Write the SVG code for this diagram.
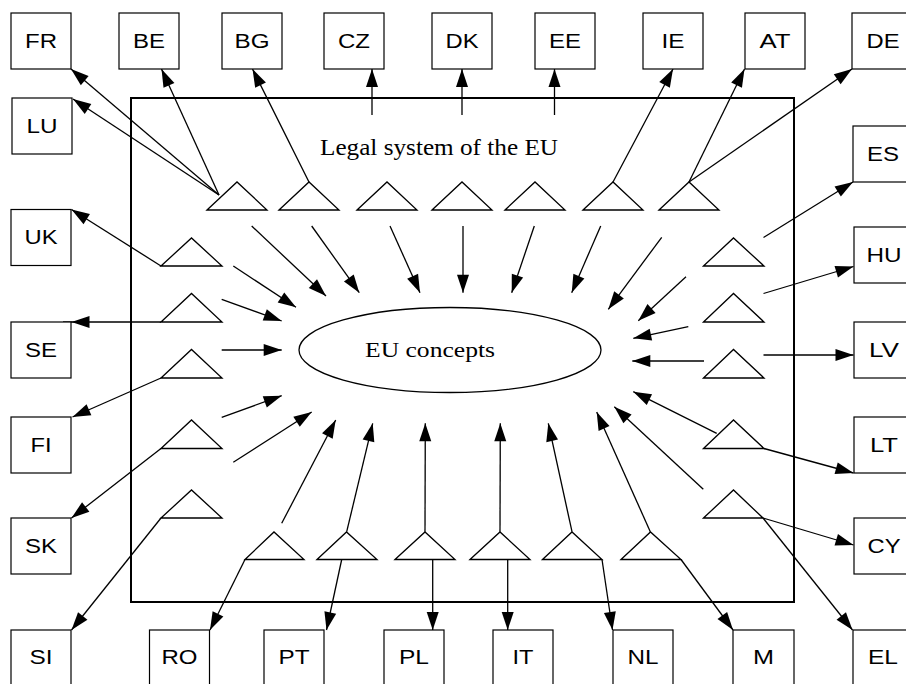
<svg xmlns="http://www.w3.org/2000/svg" width="906" height="684" viewBox="0 0 906 684">
<style>
.box{fill:#fff;stroke:#000;stroke-width:1.2}
.lbl{font-family:"Liberation Sans",Arial,sans-serif;font-size:20px;fill:#000;text-anchor:middle}
.tri{fill:none;stroke:#000;stroke-width:1.3}
.frame{fill:none;stroke:#000;stroke-width:2}
.ell{fill:none;stroke:#000;stroke-width:1.3}
.ser{font-family:"Liberation Serif","Times New Roman",serif;fill:#000}
.c line{stroke:#000;stroke-width:1.3;marker-end:url(#ah)}
.c line.n{marker-end:none}
</style>
<defs>
<marker id="ah" markerUnits="userSpaceOnUse" markerWidth="18" markerHeight="12" refX="18" refY="6" orient="auto" overflow="visible">
<path d="M0,0 L18,6 L0,12 z" fill="#000"/>
</marker>
</defs>
<rect width="906" height="684" fill="#fff"/>

<g id="legal-system">
<rect class="frame" x="131" y="98" width="663" height="504"/>
<text class="ser" x="320" y="155" font-size="23" textLength="238" lengthAdjust="spacingAndGlyphs">Legal system of the EU</text>
</g>

<g id="eu-concepts">
<ellipse class="ell" cx="450" cy="350" rx="151" ry="42.5"/>
<text class="ser" x="365" y="357" font-size="21" textLength="130" lengthAdjust="spacingAndGlyphs">EU concepts</text>
</g>

<g id="triangles">
<g id="t-top1"><path class="tri" d="M207,210 L237,182 L267,210 Z"/></g>
<g id="t-top2"><path class="tri" d="M279,210 L309,182 L339,210 Z"/></g>
<g id="t-top3"><path class="tri" d="M357,210 L387,182 L417,210 Z"/></g>
<g id="t-top4"><path class="tri" d="M432,210 L462,182 L492,210 Z"/></g>
<g id="t-top5"><path class="tri" d="M505,210 L535,182 L565,210 Z"/></g>
<g id="t-top6"><path class="tri" d="M583,210 L613,182 L643,210 Z"/></g>
<g id="t-top7"><path class="tri" d="M659,210 L689,182 L719,210 Z"/></g>
<g id="t-left1"><path class="tri" d="M161,266 L191.5,238 L222,266 Z"/></g>
<g id="t-left2"><path class="tri" d="M161,322 L191.5,293.5 L222,322 Z"/></g>
<g id="t-left3"><path class="tri" d="M161,378 L191.5,349.5 L222,378 Z"/></g>
<g id="t-left4"><path class="tri" d="M161,448.5 L191.5,420 L222,448.5 Z"/></g>
<g id="t-left5"><path class="tri" d="M161,518 L191.5,490 L222,518 Z"/></g>
<g id="t-right1"><path class="tri" d="M703.5,266 L733.5,238 L764,266 Z"/></g>
<g id="t-right2"><path class="tri" d="M703.5,322 L733.5,293.5 L764,322 Z"/></g>
<g id="t-right3"><path class="tri" d="M703.5,378 L733.5,349.5 L764,378 Z"/></g>
<g id="t-right4"><path class="tri" d="M703.5,448.5 L733.5,420 L764,448.5 Z"/></g>
<g id="t-right5"><path class="tri" d="M703.5,518 L733.5,490 L763,518 Z"/></g>
<g id="t-bot1"><path class="tri" d="M245,559.5 L274,532 L304,559.5 Z"/></g>
<g id="t-bot2"><path class="tri" d="M317,559.5 L346.5,532 L377,559.5 Z"/></g>
<g id="t-bot3"><path class="tri" d="M395,559.5 L425,532 L455,559.5 Z"/></g>
<g id="t-bot4"><path class="tri" d="M470,559.5 L500,532 L530,559.5 Z"/></g>
<g id="t-bot5"><path class="tri" d="M542.5,559.5 L572,532 L602,559.5 Z"/></g>
<g id="t-bot6"><path class="tri" d="M621,559.5 L650.5,532 L681,559.5 Z"/></g>
</g>

<g id="connectors" class="c">
<line x1="219" y1="195" x2="71" y2="69"/>
<line x1="219" y1="195" x2="73" y2="99"/>
<line x1="219" y1="195" x2="161.5" y2="69"/>
<line x1="309" y1="182" x2="252.5" y2="69"/>
<line x1="372" y1="115" x2="372" y2="69"/>
<line x1="462" y1="115" x2="462" y2="69"/>
<line x1="554.5" y1="115" x2="554.5" y2="69"/>
<line x1="613" y1="182" x2="673" y2="69"/>
<line x1="689" y1="182" x2="744.5" y2="69"/>
<line x1="689" y1="182" x2="852" y2="69"/>
<line x1="763.5" y1="237.5" x2="853" y2="182"/>
<line x1="763.5" y1="293.5" x2="853.5" y2="266.5"/>
<line x1="763.5" y1="355" x2="853.5" y2="355"/>
<line x1="764" y1="448.5" x2="853.5" y2="473"/>
<line x1="763" y1="518" x2="853.5" y2="545"/>
<line x1="763" y1="518" x2="852.5" y2="630"/>
<line x1="681" y1="559.5" x2="733" y2="630"/>
<line x1="602" y1="559.5" x2="612.5" y2="630"/>
<line x1="507.7" y1="559.5" x2="507.7" y2="630"/>
<line x1="432.7" y1="559.5" x2="432.7" y2="630"/>
<line x1="341.7" y1="559.5" x2="326.5" y2="630"/>
<line x1="245" y1="559.5" x2="210" y2="630"/>
<line x1="161" y1="518" x2="71.5" y2="630"/>
<line x1="161" y1="448.5" x2="71.5" y2="518"/>
<line x1="161" y1="378" x2="72.5" y2="417"/>
<line x1="161" y1="322" x2="71.5" y2="322"/>
<line class="n" x1="72" y1="322" x2="63" y2="322"/>
<line x1="161" y1="266" x2="71.5" y2="209.5"/>
<line x1="251.7" y1="226" x2="326" y2="296"/>
<line x1="311.7" y1="226" x2="359.3" y2="292.7"/>
<line x1="390" y1="226" x2="420" y2="292.7"/>
<line x1="463" y1="226" x2="463" y2="292.7"/>
<line x1="534.3" y1="226" x2="511.7" y2="292.7"/>
<line x1="600.7" y1="226" x2="571.7" y2="292.7"/>
<line x1="661.7" y1="237.3" x2="608.3" y2="309.3"/>
<line x1="686" y1="276.7" x2="638.3" y2="320.7"/>
<line x1="688.3" y1="326.7" x2="633.3" y2="338.3"/>
<line x1="704" y1="361" x2="632.3" y2="361"/>
<line x1="716.7" y1="433.3" x2="633.3" y2="391.7"/>
<line x1="703.3" y1="489.3" x2="614.3" y2="406.7"/>
<line x1="650.3" y1="531.7" x2="596.7" y2="412"/>
<line x1="572" y1="531.7" x2="548.3" y2="423.3"/>
<line x1="500" y1="531.7" x2="500.3" y2="423.3"/>
<line x1="425" y1="531.7" x2="425.3" y2="423.3"/>
<line x1="346.7" y1="531.7" x2="372.7" y2="423.3"/>
<line x1="281.7" y1="523.3" x2="335.7" y2="420"/>
<line x1="233.3" y1="462.3" x2="311.7" y2="412"/>
<line x1="221.7" y1="417.3" x2="281.7" y2="395.7"/>
<line x1="221.7" y1="350" x2="281.7" y2="350"/>
<line x1="221.7" y1="299.3" x2="281.7" y2="321"/>
<line x1="233.3" y1="266" x2="296" y2="307.3"/>
</g>

<g id="FR"><rect class="box" x="11" y="13" width="60" height="56"/><text class="lbl" x="41" y="47.5" textLength="32" lengthAdjust="spacingAndGlyphs">FR</text></g>
<g id="BE"><rect class="box" x="119" y="13" width="60" height="56"/><text class="lbl" x="149" y="47.5" textLength="32" lengthAdjust="spacingAndGlyphs">BE</text></g>
<g id="BG"><rect class="box" x="222" y="13" width="60" height="56"/><text class="lbl" x="252" y="47.5" textLength="35" lengthAdjust="spacingAndGlyphs">BG</text></g>
<g id="CZ"><rect class="box" x="324" y="13" width="60" height="56"/><text class="lbl" x="354" y="47.5" textLength="32" lengthAdjust="spacingAndGlyphs">CZ</text></g>
<g id="DK"><rect class="box" x="432" y="13" width="60" height="56"/><text class="lbl" x="462" y="47.5" textLength="33" lengthAdjust="spacingAndGlyphs">DK</text></g>
<g id="EE"><rect class="box" x="535" y="13" width="60" height="56"/><text class="lbl" x="565" y="47.5" textLength="32" lengthAdjust="spacingAndGlyphs">EE</text></g>
<g id="IE"><rect class="box" x="643" y="13" width="60" height="56"/><text class="lbl" x="673" y="47.5" textLength="23" lengthAdjust="spacingAndGlyphs">IE</text></g>
<g id="AT"><rect class="box" x="745" y="13" width="60" height="56"/><text class="lbl" x="775" y="47.5" textLength="31" lengthAdjust="spacingAndGlyphs">AT</text></g>
<g id="DE"><rect class="box" x="852" y="13" width="60" height="56"/><text class="lbl" x="883" y="47.5" textLength="33" lengthAdjust="spacingAndGlyphs">DE</text></g>

<g id="LU"><rect class="box" x="12" y="98" width="60" height="56"/><text class="lbl" x="42" y="132.5" textLength="31" lengthAdjust="spacingAndGlyphs">LU</text></g>
<g id="UK"><rect class="box" x="11" y="209.5" width="60" height="56"/><text class="lbl" x="41" y="244" textLength="33" lengthAdjust="spacingAndGlyphs">UK</text></g>
<g id="SE"><rect class="box" x="11" y="322" width="60" height="56"/><text class="lbl" x="41" y="356.5" textLength="32" lengthAdjust="spacingAndGlyphs">SE</text></g>
<g id="FI"><rect class="box" x="11" y="417" width="60" height="56"/><text class="lbl" x="41" y="451.5" textLength="21" lengthAdjust="spacingAndGlyphs">FI</text></g>
<g id="SK"><rect class="box" x="11" y="518" width="60" height="56"/><text class="lbl" x="41" y="552.5" textLength="32" lengthAdjust="spacingAndGlyphs">SK</text></g>
<g id="SI"><rect class="box" x="11" y="630" width="60" height="56"/><text class="lbl" x="41" y="663.5" textLength="23" lengthAdjust="spacingAndGlyphs">SI</text></g>

<g id="ES"><rect class="box" x="853" y="126" width="60" height="56"/><text class="lbl" x="883" y="160.5" textLength="32" lengthAdjust="spacingAndGlyphs">ES</text></g>
<g id="HU"><rect class="box" x="854" y="227" width="60" height="56"/><text class="lbl" x="884" y="261.5" textLength="35" lengthAdjust="spacingAndGlyphs">HU</text></g>
<g id="LV"><rect class="box" x="854" y="322" width="60" height="56"/><text class="lbl" x="884" y="356.5" textLength="30" lengthAdjust="spacingAndGlyphs">LV</text></g>
<g id="LT"><rect class="box" x="854" y="417" width="60" height="56"/><text class="lbl" x="884" y="451.5" textLength="28" lengthAdjust="spacingAndGlyphs">LT</text></g>
<g id="CY"><rect class="box" x="854" y="518" width="60" height="56"/><text class="lbl" x="884" y="552.5" textLength="33" lengthAdjust="spacingAndGlyphs">CY</text></g>
<g id="EL"><rect class="box" x="853" y="630" width="60" height="56"/><text class="lbl" x="883" y="663.5" textLength="30" lengthAdjust="spacingAndGlyphs">EL</text></g>

<g id="RO"><rect class="box" x="149.5" y="630" width="60" height="56"/><text class="lbl" x="179.5" y="663.5" textLength="36" lengthAdjust="spacingAndGlyphs">RO</text></g>
<g id="PT"><rect class="box" x="264" y="630" width="60" height="56"/><text class="lbl" x="294" y="663.5" textLength="31" lengthAdjust="spacingAndGlyphs">PT</text></g>
<g id="PL"><rect class="box" x="384" y="630" width="60" height="56"/><text class="lbl" x="414" y="663.5" textLength="30" lengthAdjust="spacingAndGlyphs">PL</text></g>
<g id="IT"><rect class="box" x="493" y="630" width="60" height="56"/><text class="lbl" x="523" y="663.5" textLength="21" lengthAdjust="spacingAndGlyphs">IT</text></g>
<g id="NL"><rect class="box" x="613" y="630" width="60" height="56"/><text class="lbl" x="643" y="663.5" textLength="31" lengthAdjust="spacingAndGlyphs">NL</text></g>
<g id="M"><rect class="box" x="733" y="630" width="61" height="56"/><text class="lbl" x="763.5" y="663.5" textLength="21" lengthAdjust="spacingAndGlyphs">M</text></g>
</svg>
